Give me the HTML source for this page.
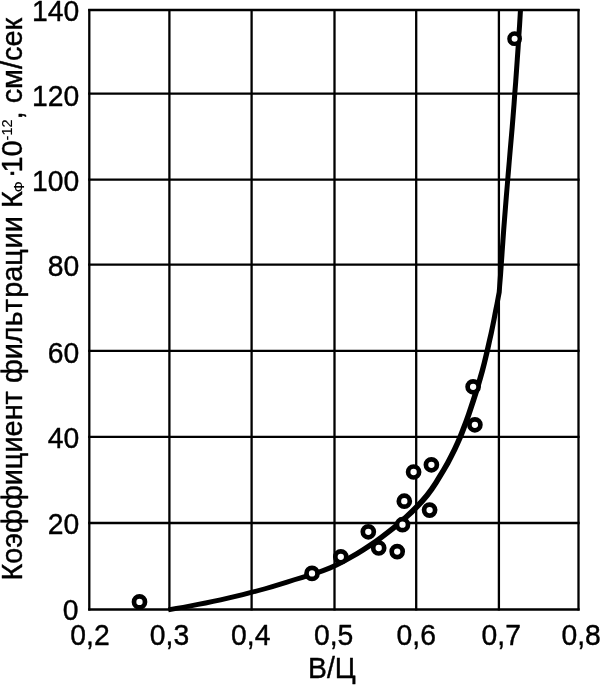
<!DOCTYPE html>
<html lang="ru">
<head>
<meta charset="utf-8">
<title>Коэффициент фильтрации</title>
<style>
html,body{margin:0;padding:0;background:#fff;}
body{width:600px;height:685px;overflow:hidden;}
svg{display:block;}
text{font-family:"Liberation Sans",Arial,sans-serif;font-size:28.3px;fill:#000;stroke:#000;stroke-width:0.4;stroke-linejoin:round;}
.g line{stroke:#000;stroke-width:2.3;}
.pt circle{fill:#fff;stroke:#000;stroke-width:4.7;}
</style>
</head>
<body>
<svg width="600" height="685" viewBox="0 0 600 685">
<rect width="600" height="685" fill="#fff"/>
<g class="g">
<line x1="89.3" y1="8.9" x2="89.3" y2="610.6"/>
<line x1="169.4" y1="8.9" x2="169.4" y2="610.6"/>
<line x1="251.6" y1="8.9" x2="251.6" y2="610.6"/>
<line x1="334.5" y1="8.9" x2="334.5" y2="610.6"/>
<line x1="416.2" y1="8.9" x2="416.2" y2="610.6"/>
<line x1="498.9" y1="8.9" x2="498.9" y2="610.6"/>
<line x1="578.5" y1="8.9" x2="578.5" y2="610.6"/>
<line x1="88.2" y1="10.0" x2="579.6" y2="10.0"/>
<line x1="88.2" y1="93.6" x2="579.6" y2="93.6"/>
<line x1="88.2" y1="179.6" x2="579.6" y2="179.6"/>
<line x1="88.2" y1="264.7" x2="579.6" y2="264.7"/>
<line x1="88.2" y1="350.8" x2="579.6" y2="350.8"/>
<line x1="88.2" y1="436.8" x2="579.6" y2="436.8"/>
<line x1="88.2" y1="523.0" x2="579.6" y2="523.0"/>
<line x1="88.2" y1="609.5" x2="579.6" y2="609.5"/>
</g>
<path d="M168.7 612.2 L176.8 610.8 L183.7 609.6 L191.1 608.2 L198.6 606.8 L206.1 605.4 L213.6 603.8 L221.1 602.2 L228.5 600.5 L236.0 598.7 L243.4 596.9 L250.8 595.0 L258.3 593.0 L265.7 591.0 L273.1 588.9 L280.4 586.7 L287.8 584.4 L295.1 582.1 L302.4 579.9 L309.6 577.7 L316.8 575.5 L324.0 573.0 L331.1 570.2 L338.1 567.0 L344.9 563.5 L351.6 559.8 L358.3 556.0 L364.8 552.0 L371.3 547.8 L377.7 543.4 L384.0 538.8 L390.2 534.1 L396.3 529.2 L402.3 524.2 L408.1 519.1 L413.7 513.9 L419.1 508.4 L424.3 502.9 L429.4 497.0 L434.0 490.7 L438.3 484.3 L442.4 477.6 L446.3 471.1 L450.1 464.4 L453.7 457.6 L457.1 450.8 L460.3 443.8 L463.4 436.7 L466.2 429.6 L468.8 422.4 L471.4 415.2 L473.8 408.0 L476.2 400.7 L478.5 393.4 L480.8 386.1 L482.9 378.7 L485.0 371.2 L486.9 363.8 L488.7 356.3 L490.4 348.9 L492.0 341.5 L493.7 334.0 L495.2 326.5 L496.7 319.0 L498.1 311.5 L499.5 304.1 L500.6 298.2 L501.7 292.6 L502.1 286.3 L503.0 275.4 L503.8 264.0 L504.6 252.6 L505.4 241.2 L506.2 229.9 L507.1 218.5 L508.0 207.1 L508.9 195.8 L509.8 184.4 L510.8 173.0 L511.7 161.7 L512.7 150.3 L513.7 138.9 L514.7 127.5 L515.6 116.2 L516.5 104.8 L517.3 93.4 L518.2 82.0 L519.0 70.7 L519.8 59.3 L520.6 47.9 L521.3 36.5 L522.1 25.1 L522.7 14.8 L523.0 10.0 L518.0 9.6 L517.7 14.5 L517.1 24.8 L516.3 36.2 L515.6 47.6 L514.8 58.9 L514.0 70.3 L513.2 81.7 L512.3 93.0 L511.5 104.4 L510.6 115.8 L509.7 127.1 L508.7 138.5 L507.7 149.9 L506.8 161.2 L505.8 172.6 L504.9 184.0 L503.9 195.4 L503.0 206.7 L502.1 218.1 L501.2 229.5 L500.4 240.9 L499.6 252.3 L498.8 263.6 L498.0 275.0 L497.2 285.9 L496.7 292.0 L495.7 297.3 L494.6 303.2 L493.1 310.6 L491.7 318.1 L490.2 325.5 L488.6 332.9 L486.9 340.3 L485.2 347.7 L483.5 355.1 L481.7 362.5 L479.8 369.8 L477.7 377.1 L475.5 384.4 L473.2 391.7 L470.9 399.0 L468.5 406.2 L466.1 413.4 L463.6 420.5 L460.9 427.6 L458.2 434.6 L455.2 441.5 L452.1 448.3 L448.7 455.1 L445.2 461.7 L441.5 468.2 L437.5 474.8 L433.6 481.2 L429.4 487.5 L424.9 493.6 L420.2 499.1 L415.1 504.5 L409.8 509.8 L404.3 515.0 L398.6 520.0 L392.8 524.9 L386.8 529.7 L380.7 534.4 L374.6 539.0 L368.3 543.3 L361.9 547.5 L355.5 551.4 L349.0 555.2 L342.5 558.9 L335.8 562.4 L329.1 565.5 L322.2 568.3 L315.3 570.7 L308.1 573.0 L300.9 575.2 L293.6 577.5 L286.3 579.8 L279.0 582.1 L271.7 584.3 L264.4 586.4 L257.0 588.4 L249.6 590.3 L242.2 592.2 L234.8 594.1 L227.4 595.8 L220.0 597.5 L212.6 599.1 L205.2 600.6 L197.7 602.1 L190.3 603.5 L182.8 604.9 L176.0 606.1 L167.9 607.4Z" fill="#000"/>
<g class="pt" transform="translate(0 0.5)">
<circle cx="139.5" cy="601.4" r="5.5"/>
<circle cx="312.0" cy="572.9" r="5.5"/>
<circle cx="340.8" cy="556.3" r="5.5"/>
<circle cx="368.3" cy="531.3" r="5.5"/>
<circle cx="378.7" cy="547.5" r="5.5"/>
<circle cx="397.2" cy="551.1" r="5.5"/>
<circle cx="402.5" cy="524.2" r="5.5"/>
<circle cx="404.3" cy="500.7" r="5.5"/>
<circle cx="413.6" cy="471.5" r="5.5"/>
<circle cx="431.4" cy="464.3" r="5.5"/>
<circle cx="429.6" cy="509.6" r="5.5"/>
<circle cx="473.1" cy="386.3" r="5.5"/>
<circle cx="474.9" cy="424.3" r="5.5"/>
<circle cx="514.6" cy="38.2" r="5.2" style="stroke-width:4.4"/>
</g>
<g text-anchor="end">
<text transform="translate(79.3 21.3) scale(1 1.06)">140</text>
<text transform="translate(79.3 106.0) scale(1 1.06)">120</text>
<text transform="translate(79.3 190.7) scale(1 1.06)">100</text>
<text transform="translate(79.3 275.9) scale(1 1.06)">80</text>
<text transform="translate(79.3 363.2) scale(1 1.06)">60</text>
<text transform="translate(79.3 448.1) scale(1 1.06)">40</text>
<text transform="translate(79.3 533.5) scale(1 1.06)">20</text>
<text transform="translate(78.5 620.2) scale(1 1.06)">0</text>
</g>
<g text-anchor="middle">
<text transform="translate(90.0 645.4) scale(1 1.06)">0,2</text>
<text transform="translate(169.5 645.4) scale(1 1.06)">0,3</text>
<text transform="translate(250.7 645.4) scale(1 1.06)">0,4</text>
<text transform="translate(333.6 645.4) scale(1 1.06)">0,5</text>
<text transform="translate(416.2 645.4) scale(1 1.06)">0,6</text>
<text transform="translate(501.2 645.4) scale(1 1.06)">0,7</text>
<text transform="translate(581.1 645.4) scale(1 1.06)">0,8</text>
<text transform="translate(331.9 677.8) scale(1 1.06)">В/Ц</text>
</g>
<text transform="translate(21.6 580.6) rotate(-90)" style="font-size:28.93px" id="ttl">Коэффициент филь<tspan dx="1.2">т</tspan><tspan dx="1.2">р</tspan>ац<tspan dx="0.6">и</tspan>и К<tspan font-size="14.5" stroke-width="0.1" dy="2.4" dx="-1">Ф</tspan><tspan dy="-4.1" dx="3">·</tspan><tspan dy="1.7" dx="-4">10</tspan><tspan font-size="14.5" stroke-width="0.1" dy="-9.6">-12</tspan><tspan dy="9.6">, см/сек</tspan></text>
</svg>
</body>
</html>
